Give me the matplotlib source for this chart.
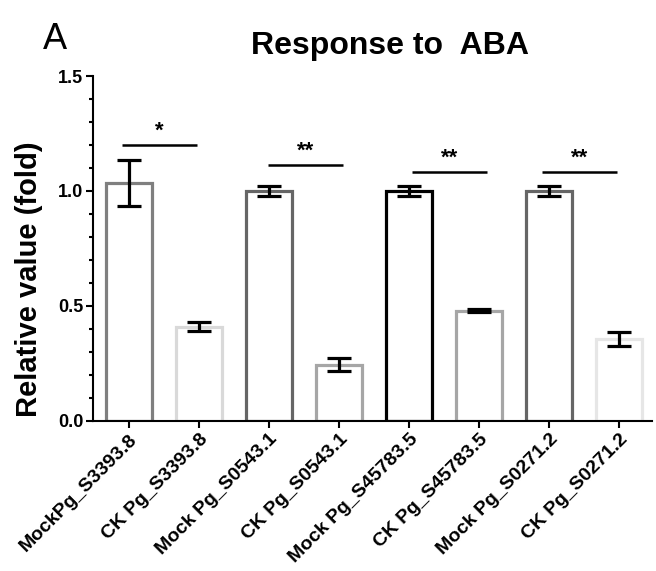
import matplotlib
matplotlib.use("Agg")
import matplotlib.pyplot as plt
from matplotlib.ticker import MultipleLocator

plt.rcParams['font.family'] = ['Liberation Sans', 'DejaVu Sans']

# 数据
labels = ["MockPg_S3393.8", "CK Pg_S3393.8", "Mock Pg_S0543.1", "CK Pg_S0543.1",
          "Mock Pg_S45783.5", "CK Pg_S45783.5", "Mock Pg_S0271.2", "CK Pg_S0271.2"]
values = [1.035, 0.41, 1.0, 0.245, 1.0, 0.48, 1.0, 0.355]
errors = [0.10, 0.02, 0.023, 0.028, 0.023, 0.007, 0.023, 0.03]
edge_colors = ["#7f7f7f", "#d9d9d9", "#666666", "#a6a6a6",
               "#000000", "#a6a6a6", "#666666", "#e6e6e6"]

# 显著性标记
sig_marks = ["*", "**", "**", "**"]
sig_height = [1.20, 1.113, 1.084, 1.084]
sig_start = [-0.10, 1.99, 4.04, 5.90]
sig_end = [0.97, 3.06, 5.11, 6.97]

fig = plt.figure(figsize=(6.56, 5.71), dpi=100)
ax = fig.add_axes([0.1418, 0.2627, 0.852, 0.6042])

x = range(len(labels))
ax.bar(x, values, width=0.66, color="white", edgecolor=edge_colors, linewidth=2.3)
ax.errorbar(x, values, yerr=errors, fmt="none", ecolor="black",
            elinewidth=2.3, capsize=8.5, capthick=2.3)

for m, h, s, e in zip(sig_marks, sig_height, sig_start, sig_end):
    ax.plot([s, e], [h, h], color="black", lw=1.8, solid_capstyle="butt")
    ax.text((s + e) / 2, h + 0.015, m, ha="center", va="bottom",
            fontsize=16, fontweight="bold")

ax.set_xlim(-0.514, 7.47)
ax.set_ylim(0, 1.5)
ax.yaxis.set_major_locator(MultipleLocator(0.5))
ax.yaxis.set_minor_locator(MultipleLocator(0.1))
ax.yaxis.set_major_formatter(matplotlib.ticker.FormatStrFormatter("%.1f"))

ax.set_xticks(list(x))
ax.set_xticklabels(labels, rotation=45, ha="right", rotation_mode="anchor",
                   fontsize=14, fontweight="bold")
for t in ax.get_yticklabels():
    t.set_fontweight("bold")
    t.set_fontsize(13)

ax.spines["top"].set_visible(False)
ax.spines["right"].set_visible(False)
ax.spines["left"].set_linewidth(1.5)
ax.spines["bottom"].set_linewidth(1.5)
ax.tick_params(axis="both", which="major", width=1.5, length=5, pad=2)
ax.tick_params(axis="y", which="minor", width=1.5, length=3)

ax.set_ylabel("Relative value (fold)", fontsize=21, fontweight="bold")
ax.yaxis.set_label_coords(-0.09, 0.41)
fig.text(0.595, 0.919, "Response to  ABA", ha="center", va="center",
         fontsize=23, fontweight="bold")
fig.text(0.084, 0.93, "A", ha="center", va="center", fontsize=26)

fig.savefig("out.png", dpi=100)
